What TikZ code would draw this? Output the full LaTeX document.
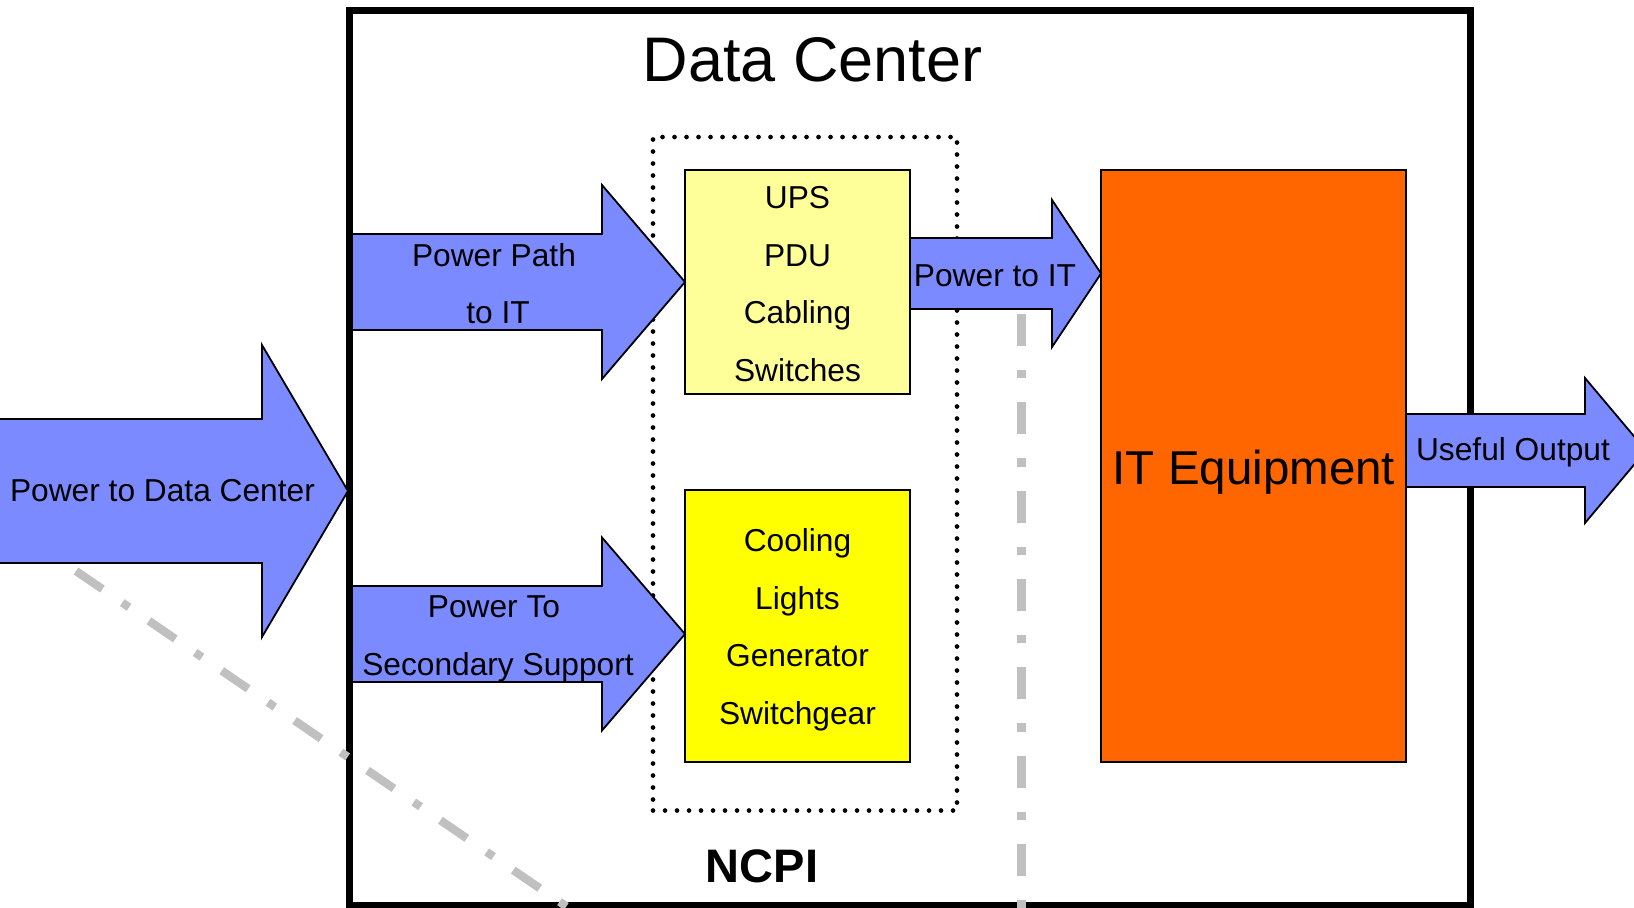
\documentclass[tikz,border=0pt]{standalone}
\usepackage{fontspec}
\setmainfont{Liberation Sans}
\definecolor{arrowblue}{HTML}{7B8AFF}
\definecolor{ltyellow}{HTML}{FFFF99}
\definecolor{fullyellow}{HTML}{FFFF00}
\definecolor{itorange}{HTML}{FF6600}
\definecolor{guidegray}{HTML}{C0C0C0}
\newcommand\fatarrow[7]{% name, x start, head base x, tip x, centre y, shaft half, head half
  \draw[barrow] (#2,{#5-#6}) -- (#3,{#5-#6}) -- (#3,{#5-#7}) -- (#4,#5) -- (#3,{#5+#7}) -- (#3,{#5+#6}) -- (#2,{#5+#6}) -- cycle;
  \coordinate (#1) at (#4,#5);}
\begin{document}
\begin{tikzpicture}[x=0.5pt,y=-0.5pt,
  frame/.style={draw=black, line width=3.5pt, rectangle, inner sep=0pt, outer sep=0pt},
  guideline/.style={draw=guidegray, line width=4.15pt, dash pattern=on 16pt off 12pt on 4.15pt off 12pt},
  dotbox/.style={draw=black, line width=2.35pt, line cap=round, dash pattern=on 0pt off 6pt, rectangle, inner sep=0pt, outer sep=0pt},
  blk/.style={draw=black, line width=0.8pt, rectangle, inner sep=0pt, outer sep=0pt},
  barrow/.style={fill=arrowblue, draw=black, line width=0.9pt, line join=miter},
  lbl/.style={font=\fontsize{15.85}{19}\selectfont, anchor=base, inner sep=0pt},
  title/.style={font=\fontsize{31.5}{36}\selectfont, anchor=base, inner sep=0pt},
  big/.style={font=\fontsize{23.75}{28}\selectfont, anchor=base, inner sep=0pt},
  bigbold/.style={font=\fontsize{23.5}{28}\selectfont\bfseries, anchor=base, inner sep=0pt}]
\useasboundingbox (0,0) rectangle (1634,907);
\clip (0,0) rectangle (1634,907);
\fill[white] (0,0) rectangle (1634,907);

% main frame
\node[frame, minimum width=560.5pt, minimum height=447.25pt] (dc) at (909.5,457.75) {};

% grey dash-dot guide lines
\coordinate (g1a) at (76,571);
\coordinate (g1b) at (628,948.6);
\coordinate (g2a) at (1021.5,314);
\coordinate (g2b) at (1021.5,930);
\draw[guideline] (g1a) -- (g1b);
\draw[guideline] (g2a) -- (g2b);

% dotted NCPI box
\node[dotbox, minimum width=152pt, minimum height=336.75pt] (ncpibox) at (805,473.75) {};

% blocks
\node[blk, fill=ltyellow, minimum width=112.5pt, minimum height=112pt] (ups) at (797.5,282) {};
\node[blk, fill=fullyellow, minimum width=112.5pt, minimum height=136pt] (sec) at (797.5,626) {};
\node[blk, fill=itorange, minimum width=152.5pt, minimum height=296pt] (it) at (1253.5,466) {};

% block arrows
\fatarrow{pdc}{-5}{262}{348}{491}{72}{146}
\fatarrow{ppit}{352}{602}{685}{282}{48}{97}
\fatarrow{pss}{352}{602}{685}{634}{48}{96.5}
\fatarrow{ptit}{910}{1052}{1101}{273.5}{35.5}{73.5}
\fatarrow{uo}{1406}{1585}{1646}{450.5}{36.5}{72.5}

% texts
\node[title] (ttl) at (812.5,81.7) {Data Center};
\node[lbl] (tpdc) at (162.5,501.7) {Power to Data Center};
\node[lbl] (tpp1) at (494,266) {Power Path};
\node[lbl] (tpp2) at (498,323.5) {to IT};
\node[lbl] (tps1) at (494,617.5) {Power To};
\node[lbl] (tps2) at (498,675) {Secondary Support};
\node[lbl] (tu1) at (797.5,208) {UPS};
\node[lbl] (tu2) at (797.5,266) {PDU};
\node[lbl] (tu3) at (797.5,323.5) {Cabling};
\node[lbl] (tu4) at (797.5,381) {Switches};
\node[lbl] (ts1) at (797.5,551.7) {Cooling};
\node[lbl] (ts2) at (797.5,609) {Lights};
\node[lbl] (ts3) at (797.5,666) {Generator};
\node[lbl] (ts4) at (797.5,724) {Switchgear};
\node[lbl] (tpit) at (995,286) {Power to IT};
\node[lbl] (tuo) at (1513,460.7) {Useful Output};
\node[big] (tit) at (1254,484) {IT Equipment};
\node[bigbold] (tncpi) at (762,882.7) {NCPI};
\end{tikzpicture}
\end{document}
